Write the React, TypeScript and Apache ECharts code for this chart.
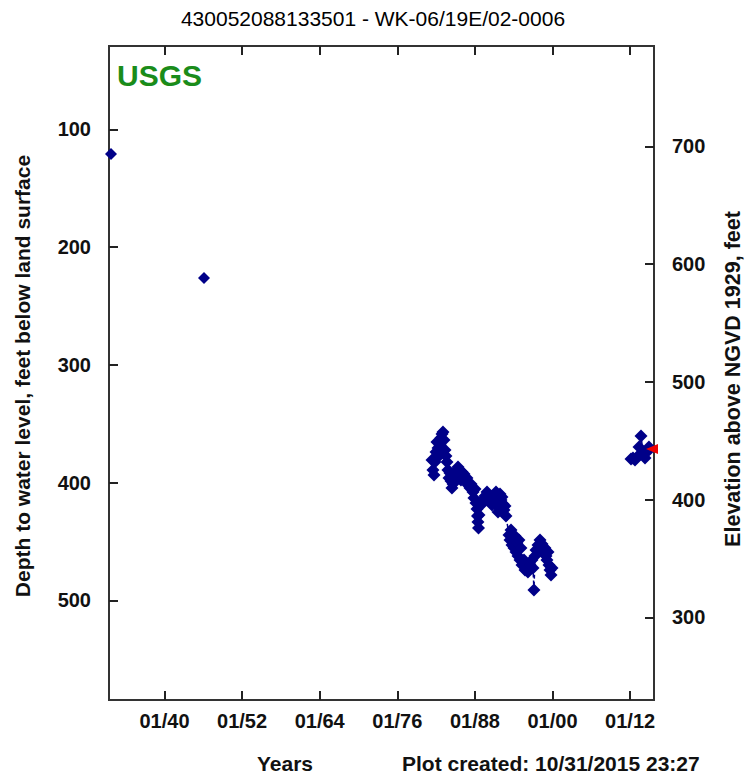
import React, { useEffect, useRef } from "react";
import * as echarts from "echarts";

// ---- Data (decimal years, depth to water in feet below land surface) ----
const earlyYears = [1931.73, 1946.11];
const earlyDepths = [121.0, 226.3];

const midYears = [
  1981.36, 1981.51, 1981.67, 1981.82, 1981.98, 1982.13, 1982.29, 1982.44, 1982.6, 1982.75,
  1982.91, 1983.06, 1983.22, 1983.37, 1983.52, 1983.68, 1983.83, 1983.99, 1984.14, 1984.3,
  1984.45, 1984.61, 1984.92, 1985.23, 1985.38, 1985.54, 1985.84, 1986.0, 1986.31, 1986.46,
  1986.77, 1986.93, 1987.24, 1987.39, 1987.7, 1987.85, 1988.01, 1988.16, 1988.32, 1988.4,
  1988.47, 1988.55, 1988.63, 1988.94, 1989.25, 1989.56, 1989.87, 1990.17, 1990.33, 1990.64,
  1990.95, 1991.26, 1991.41, 1991.57, 1991.88, 1992.03, 1992.18, 1992.34, 1992.49, 1992.65,
  1992.8, 1993.27, 1993.42, 1993.58, 1993.73, 1993.89, 1994.04, 1994.19, 1994.35, 1994.5,
  1994.66, 1994.81, 1994.97, 1995.12, 1995.28, 1995.59, 1995.74, 1996.05, 1996.2, 1996.51,
  1996.82, 1996.98, 1997.13, 1997.29, 1997.44, 1997.75, 1998.06, 1998.21, 1998.37, 1998.52,
  1998.83, 1998.99, 1999.14, 1999.3, 1999.45, 1999.61, 1999.76, 1999.92,
];
const midDepths = [
  380.9, 389.4, 393.6, 382.6, 374.1, 365.6, 370.7, 377.5, 368.1, 362.2,
  358.8, 357.1, 363.9, 372.4, 377.5, 382.6, 389.4, 396.2, 391.9, 398.7,
  404.6, 401.3, 396.2, 389.4, 386.8, 393.6, 397.9, 391.1, 392.8, 397.9,
  396.2, 402.1, 404.6, 401.3, 408.0, 413.1, 405.5, 417.4, 422.5, 428.4,
  433.5, 438.6, 427.6, 419.1, 414.8, 411.4, 408.0, 411.4, 416.5, 419.1,
  413.1, 408.0, 419.9, 425.0, 409.7, 414.8, 412.3, 418.2, 423.3, 419.9,
  428.4, 444.6, 448.8, 440.3, 453.1, 448.8, 455.6, 445.4, 459.0, 451.4,
  462.4, 448.8, 465.8, 455.6, 470.0, 465.8, 474.3, 470.0, 476.0, 470.0,
  465.8, 472.6, 491.3, 462.4, 457.3, 453.1, 448.8, 455.6, 452.2, 459.0,
  455.6, 462.4, 465.8, 459.0, 470.0, 474.3, 478.5, 472.6,
];

const lateYears = [2012.13, 2012.44, 2012.75, 2013.06, 2013.37, 2013.68, 2013.99, 2014.3, 2014.61, 2014.91];
const lateDepths = [380.0, 379.2, 380.9, 378.3, 369.8, 360.5, 374.1, 379.2, 374.1, 369.8];

const latestYears = [2015.38];
const latestDepths = [371.5];

const xTicks = [1940, 1952, 1964, 1976, 1988, 2000, 2012];
const depthTicks = [100, 200, 300, 400, 500];
const elevTicks = [300, 400, 500, 600, 700];

const LAND_SURFACE = 814.5;
const X_MIN = 1931.42;
const X_MAX = 2015.69;
const DEPTH_MIN = 29.3;
const DEPTH_MAX = 584.7;

const FONT = '"Liberation Sans", Arial, Helvetica, sans-serif';
const NAVY = "#000088";

const zip = (xs: number[], ys: number[]) => xs.map((x, i) => [x, ys[i]]);

export default function App() {
  const ref = useRef<HTMLDivElement>(null);

  useEffect(() => {
    if (!ref.current) return;
    const chart = echarts.init(ref.current, null, { renderer: "svg" });

    const tickStyle = { color: "#222", width: 2 };
    const labelStyle = { fontFamily: FONT, fontSize: 20, fontWeight: "bold" as const, color: "#111" };

    const option: any = {
      animation: false,
      backgroundColor: "#ffffff",
      title: {
        text: "430052088133501 - WK-06/19E/02-0006",
        left: "center",
        top: 8,
        padding: 0,
        textStyle: { fontFamily: FONT, fontSize: 21, fontWeight: "normal", color: "#000" },
      },
      grid: {
        left: 109,
        right: 92,
        top: 46,
        bottom: 78,
        show: true,
        borderColor: "#333",
        borderWidth: 2,
        backgroundColor: "transparent",
      },
      xAxis: [
        {
          type: "value",
          position: "bottom",
          min: X_MIN,
          max: X_MAX,
          axisLine: { show: false },
          splitLine: { show: false },
          axisTick: { inside: true, length: 9, customValues: xTicks, lineStyle: tickStyle },
          axisLabel: {
            ...labelStyle,
            customValues: xTicks,
            margin: 11,
            formatter: (v: number) => "01/" + String(Math.round(v) % 100).padStart(2, "0"),
          },
        },
        {
          type: "value",
          position: "top",
          min: X_MIN,
          max: X_MAX,
          axisLine: { show: false },
          splitLine: { show: false },
          axisTick: { inside: true, length: 9, customValues: xTicks, lineStyle: tickStyle },
          axisLabel: { show: false },
        },
      ],
      yAxis: [
        {
          type: "value",
          position: "left",
          inverse: true,
          min: DEPTH_MIN,
          max: DEPTH_MAX,
          axisLine: { show: false },
          splitLine: { show: false },
          axisTick: { inside: true, length: 9, customValues: depthTicks, lineStyle: tickStyle },
          axisLabel: { ...labelStyle, customValues: depthTicks, margin: 18 },
        },
        {
          type: "value",
          position: "right",
          min: LAND_SURFACE - DEPTH_MAX,
          max: LAND_SURFACE - DEPTH_MIN,
          axisLine: { show: false },
          splitLine: { show: false },
          axisTick: { inside: true, length: 9, customValues: elevTicks, lineStyle: tickStyle },
          axisLabel: { ...labelStyle, customValues: elevTicks, margin: 18 },
        },
      ],
      series: [
        {
          type: "scatter",
          data: zip(earlyYears, earlyDepths),
          symbol: "diamond",
          symbolSize: [12, 12],
          itemStyle: { color: NAVY, opacity: 1 },
          clip: false,
        },
        {
          type: "line",
          data: zip(midYears, midDepths),
          symbol: "diamond",
          symbolSize: [13, 13],
          showAllSymbol: true,
          itemStyle: { color: NAVY, opacity: 1 },
          lineStyle: { color: NAVY, width: 1.5, type: [4, 3] },
        },
        {
          type: "line",
          data: zip(lateYears, lateDepths),
          symbol: "diamond",
          symbolSize: [13, 13],
          showAllSymbol: true,
          itemStyle: { color: NAVY, opacity: 1 },
          lineStyle: { color: NAVY, width: 1.5, type: [4, 3] },
        },
        {
          type: "scatter",
          data: zip(latestYears, latestDepths),
          symbol: "triangle",
          symbolRotate: 90,
          symbolSize: [10, 12],
          itemStyle: { color: "#ee0000", opacity: 1 },
          clip: false,
          z: 5,
        },
      ],
      graphic: [
        {
          type: "text",
          x: 117,
          y: 75,
          style: {
            text: "USGS",
            fill: "#1a8c1a",
            font: `bold 30px ${FONT}`,
            verticalAlign: "middle",
            align: "left",
          },
        },
        {
          type: "text",
          x: 22,
          y: 376,
          rotation: Math.PI / 2,
          style: {
            text: "Depth to water level, feet below land surface",
            fill: "#111",
            font: `bold 21px ${FONT}`,
            align: "center",
            verticalAlign: "middle",
          },
        },
        {
          type: "text",
          x: 733,
          y: 379,
          rotation: Math.PI / 2,
          style: {
            text: "Elevation above NGVD 1929, feet",
            fill: "#111",
            font: `bold 21.5px ${FONT}`,
            align: "center",
            verticalAlign: "middle",
          },
        },
        {
          type: "text",
          x: 285,
          y: 763,
          style: {
            text: "Years",
            fill: "#111",
            font: `bold 21px ${FONT}`,
            align: "center",
            verticalAlign: "middle",
          },
        },
        {
          type: "text",
          x: 402,
          y: 763,
          style: {
            text: "Plot created: 10/31/2015 23:27",
            fill: "#111",
            font: `bold 21px ${FONT}`,
            align: "left",
            verticalAlign: "middle",
          },
        },
      ],
    };

    chart.setOption(option);
    return () => chart.dispose();
  }, []);

  return (
    <div
      ref={ref}
      style={{ position: "absolute", left: 0, top: 0, width: 746, height: 778, background: "#fff" }}
    />
  );
}
